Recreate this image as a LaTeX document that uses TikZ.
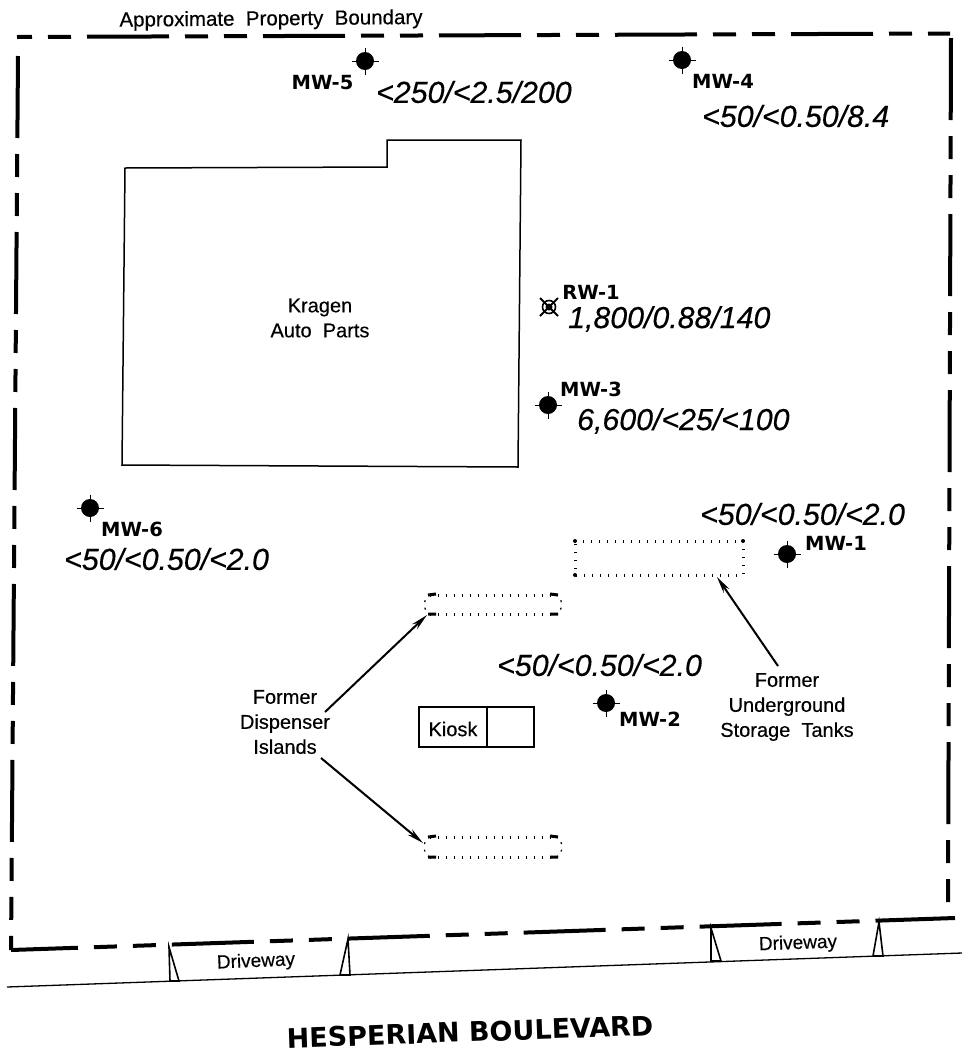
\documentclass[tikz,border=0pt]{standalone}
\usepackage{fontspec}
\setmainfont{Liberation Sans}[FakeBold=0.35]
\newfontfamily\wellfont{DejaVu Sans}[BoldFont={DejaVu Sans Bold}]
\usetikzlibrary{arrows.meta}
\newcommand{\fsz}[1]{\fontsize{#1}{#1}\selectfont}
\tikzset{
  x=1pt,y=-1pt,
  boundary/.style={line width=4pt,dash pattern=on 82pt off 16pt on 23pt off 16pt on 23pt off 16pt},
  thinline/.style={line width=1.3pt},
  outline/.style={line width=1.5pt},
  wing/.style={line width=1.6pt},
  leader/.style={line width=2pt,-{Stealth[length=17pt,width=7pt]}},
  dotted box/.style={line width=3pt,dash pattern=on 1.4pt off 6.6pt},
  island end/.style={line width=1.2pt,dash pattern=on 2pt off 5.5pt},
  blob/.style={line width=3pt},
  label text/.style={align=center,font=\fsz{20},inner sep=0pt,text=black},
  result/.style={font=\fsz{30.3}\itshape,inner sep=0pt,anchor=west},
  wellid/.style={font=\wellfont\bfseries\fsz{19.5},inner sep=0pt},
  welldot/.style={circle,fill=black,minimum size=18pt,inner sep=0pt},
}
\newcommand{\well}[3]{%
  \node[welldot] (#1) at (#2,#3) {};
  \draw[line width=1pt] (#2-13.5,#3) -- (#2+13.5,#3) (#2,#3-13.5) -- (#2,#3+13.5);
}
\begin{document}
\begin{tikzpicture}
\useasboundingbox (0,0) rectangle (962,1053);
% property boundary
\coordinate (bTL) at (17,37);
\coordinate (bTR) at (950,33.5);
\coordinate (bRT) at (951,38);
\coordinate (bRB) at (948,902);
\coordinate (bLT) at (18,56);
\coordinate (bBL) at (11,950);
\coordinate (bBR) at (955,918);
\draw[boundary,dash phase=106pt] (bTL) -- (bTR);
\draw[boundary] (bRT) -- (bRB);
\draw[boundary] (bLT) -- (bBL);
\draw[boundary,dash phase=15pt] (bBL) -- (bBR);
% road
\coordinate (rL) at (7,987);
\coordinate (rR) at (962,953);
\draw[thinline] (rL) -- (rR);
% driveway wings
\draw[wing] (169,947) -- (170,981) -- (179,981) -- cycle;
\draw[wing] (348,939) -- (340,975) -- (350,975) -- cycle;
\draw[wing] (711,928) -- (711,961) -- (721,961) -- cycle;
\draw[wing] (879,922) -- (873,956) -- (883,956) -- cycle;
\node[label text,font=\fsz{19},rotate=2.5] (d1) at (256,962) {Driveway};
\node[label text,font=\fsz{19},rotate=2] (d2) at (798,944) {Driveway};
\node[font=\wellfont\bfseries\fsz{27},inner sep=0pt,rotate=2] (road) at (470,1032) {HESPERIAN BOULEVARD};
\node[label text,font=\fsz{20.5},rotate=0.5] (apb) at (271,20) {Approximate\ \ Property\ \ Boundary};
% building
\draw[outline] (125,168) -- (387,167) -- (387,140) -- (521,140) -- (518,467) -- (122,465) -- cycle;
\node[label text] (kragen) at (320,318) {Kragen\\[5pt]Auto\ \ Parts};
% kiosk
\node[draw,outline,minimum width=115pt,minimum height=40pt,inner sep=0pt] (kiosk) at (476.5,727) {};
\draw[outline] (487,707) -- (487,747);
\node[label text] (kiosktext) at (453,729) {Kiosk};
% tanks
\coordinate (tA) at (575,541);
\coordinate (tB) at (743,541);
\coordinate (tC) at (743,575);
\coordinate (tD) at (575,575);
\draw[dotted box] (tA) -- (tB) -- (tC) -- (tD) -- cycle;
\fill (tA) circle (2pt) (tB) circle (2pt) (tD) circle (2pt);
% islands
\coordinate (iA) at (430,595);
\coordinate (iB) at (556,595);
\coordinate (iC) at (430,614);
\coordinate (iD) at (556,614);
\draw[dotted box] (iA) -- (iB) (iC) -- (iD);
\draw[blob] (428,595) -- (436,594) (428,614) -- (436,614) (550,594) -- (558,595) (550,614) -- (558,614);
\draw[island end] (iA) to[bend right=80] (iC);
\draw[island end] (iB) to[bend left=80] (iD);
\coordinate (jA) at (430,837);
\coordinate (jB) at (556,837);
\coordinate (jC) at (430,857);
\coordinate (jD) at (556,857);
\draw[dotted box] (jA) -- (jB) (jC) -- (jD);
\draw[blob] (428,837) -- (436,836) (428,857) -- (436,857) (550,836) -- (558,837) (550,857) -- (558,857);
\draw[island end] (jA) to[bend right=80] (jC);
\draw[island end] (jB) to[bend left=80] (jD);
% callouts
\node[label text] (fdi) at (285,722) {Former\\[5pt]Dispenser\\[5pt]Islands};
\node[label text] (fust) at (787,707) {Former\\[5pt]Underground\\[5pt]Storage\ \ Tanks};
\coordinate (a1) at (325,712);
\coordinate (a1t) at (427,615);
\coordinate (a2) at (321,758);
\coordinate (a2t) at (423,843);
\coordinate (a3) at (778,666);
\coordinate (a3t) at (717,577);
\draw[leader] (a1) -- (a1t);
\draw[leader] (a2) -- (a2t);
\draw[leader] (a3) -- (a3t);
% wells
\well{mw5}{365}{61}
\node[wellid] (mw5id) at (322.5,83) {MW-5};
\node[result] (mw5r) at (376,92) {<250/<2.5/200};
\well{mw4}{682}{60}
\node[wellid] (mw4id) at (723,81) {MW-4};
\node[result] (mw4r) at (702,116) {<50/<0.50/8.4};
\node[draw,circle,line width=1.6pt,minimum size=13pt,inner sep=0pt] (rw1) at (549,307) {};
\fill (549,307) circle (3.5pt);
\draw[line width=2pt] (540,298) -- (558,316) (558,298) -- (540,316);
\node[wellid] (rw1id) at (591,292) {RW-1};
\node[result] (rw1r) at (568,319) {1,800/0.88/140};
\well{mw3}{548}{405}
\node[wellid] (mw3id) at (591,389) {MW-3};
\node[result] (mw3r) at (577,421) {6,600/<25/<100};
\well{mw6}{90}{508}
\node[wellid] (mw6id) at (132,529) {MW-6};
\node[result] (mw6r) at (64,559) {<50/<0.50/<2.0};
\well{mw1}{787}{554}
\node[wellid] (mw1id) at (836,543) {MW-1};
\node[result] (mw1r) at (700,514) {<50/<0.50/<2.0};
\well{mw2}{606}{703}
\node[wellid] (mw2id) at (650,719) {MW-2};
\node[result] (mw2r) at (497,665) {<50/<0.50/<2.0};
\end{tikzpicture}
\end{document}
